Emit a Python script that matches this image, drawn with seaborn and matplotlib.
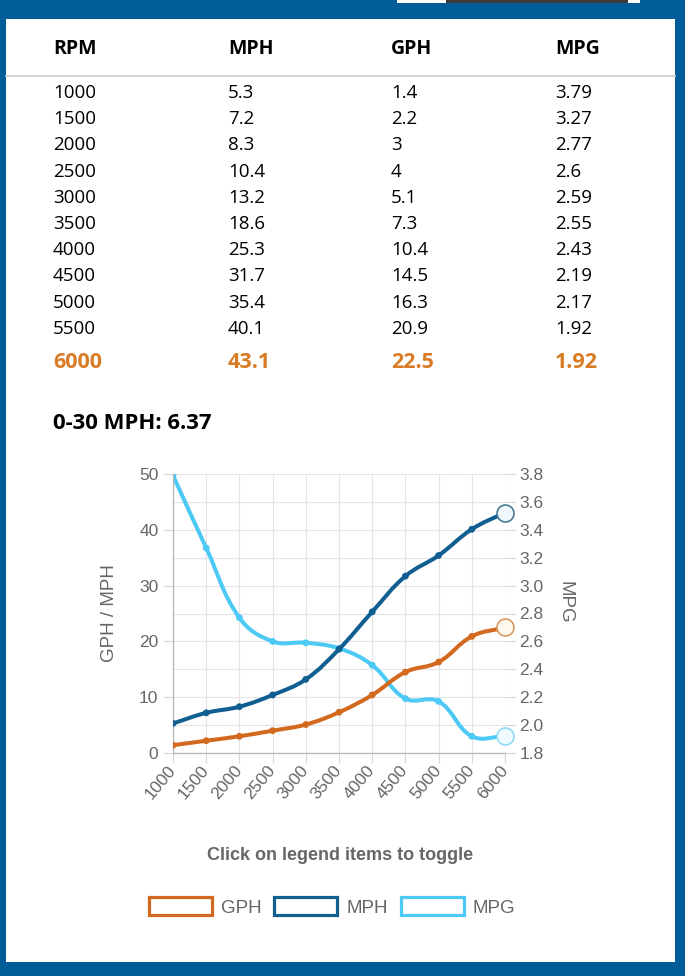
import numpy as np
import pandas as pd
import matplotlib
matplotlib.use("Agg")
import matplotlib.pyplot as plt
import seaborn as sns
from matplotlib.patches import Rectangle, PathPatch, Patch
from matplotlib.path import Path

# ---------------- data ----------------
rpm = [1000, 1500, 2000, 2500, 3000, 3500, 4000, 4500, 5000, 5500, 6000]
mph = [5.3, 7.2, 8.3, 10.4, 13.2, 18.6, 25.3, 31.7, 35.4, 40.1, 43.1]
gph = [1.4, 2.2, 3, 4, 5.1, 7.3, 10.4, 14.5, 16.3, 20.9, 22.5]
mpg = [3.79, 3.27, 2.77, 2.6, 2.59, 2.55, 2.43, 2.19, 2.17, 1.92, 1.92]
headers = ["RPM", "MPH", "GPH", "MPG"]
summary_text = "0-30 MPH: 6.37"
left_ticks = [0, 10, 20, 30, 40, 50]
right_ticks = [1.8, 2.0, 2.2, 2.4, 2.6, 2.8, 3.0, 3.2, 3.4, 3.6, 3.8]
series_names = ["GPH", "MPH", "MPG"]

df = pd.DataFrame({"RPM": rpm, "MPH": mph, "GPH": gph, "MPG": mpg})

# ---------------- style ----------------
sns.set_theme(style="white")
plt.rcParams["font.family"] = ["Liberation Sans", "DejaVu Sans"]

BLUE_BG = "#005d97"
C_GPH = "#d2691e"
C_MPH = "#115e91"
C_MPG = "#4dc9f6"
GREY_TXT = "#666666"
GRID = "#e4e4e4"

W, H = 685, 976
fig = plt.figure(figsize=(W / 100, H / 100), dpi=100, facecolor=BLUE_BG)


def fx(x):
    return x / W


def fy(y):
    return 1 - y / H


# panels
fig.patches.append(Rectangle((fx(6), fy(962)), (675 - 6) / W, (962 - 19) / H,
                             transform=fig.transFigure, facecolor="white",
                             edgecolor="none", zorder=0))
fig.patches.append(Rectangle((fx(397), fy(2.5)), (640 - 397) / W, 2.5 / H,
                             transform=fig.transFigure, facecolor="white",
                             edgecolor="none", zorder=0))
fig.patches.append(Rectangle((fx(446), fy(2.5)), (628 - 446) / W, 2.5 / H,
                             transform=fig.transFigure, facecolor="#3a3a3a",
                             edgecolor="none", zorder=1))

# ---------------- table ----------------
col_x = [53, 228, 391, 555]
for x, h in zip(col_x, headers):
    fig.text(fx(x), fy(49), h, family="Open Sans", fontweight="bold",
             fontsize=14, color="black", va="center", ha="left")

fig.lines.append(plt.Line2D([fx(6), fx(675)], [fy(76), fy(76)],
                            transform=fig.transFigure, color="#d4d4d4", lw=1.5))


def fmt(v):
    return f"{v:g}"


row_y0, row_dy = 93, 26.2
n = len(rpm)
for i in range(n - 1):
    y = row_y0 + i * row_dy
    vals = [rpm[i], mph[i], gph[i], mpg[i]]
    for x, v in zip(col_x, vals):
        fig.text(fx(x), fy(y), fmt(v), family="Open Sans", fontsize=13.5,
                 color="black", va="center", ha="left")
vals = [rpm[-1], mph[-1], gph[-1], mpg[-1]]
for x, v in zip(col_x, vals):
    fig.text(fx(x), fy(362), fmt(v), family="Open Sans", fontweight="bold",
             fontsize=15.5, color="#d97b24", va="center", ha="left")

fig.text(fx(53), fy(424), summary_text, family="Open Sans", fontweight="bold",
         fontsize=15.9, color="black", va="center", ha="left")

# ---------------- chart ----------------
ax = fig.add_axes([fx(173), 1 - 753 / H, (505 - 173) / W, (753 - 474) / H])
ax2 = ax.twinx()
ax.set_zorder(3)
ax2.set_zorder(2)
ax.patch.set_visible(False)
ax2.patch.set_visible(True)
ax2.patch.set_facecolor("white")

ax.set_xlim(1000, 6000)
ax.set_ylim(0, 50)
ax2.set_ylim(1.8, 3.8)

# grid on the lower (twin) axes
ax2.xaxis.set_visible(True)
ax2.set_xticks(rpm)
ax2.tick_params(axis="x", bottom=False, top=False, labelbottom=False, labeltop=False)
ax2.set_yticks(right_ticks)
ax2.set_yticklabels([f"{t:.1f}" for t in right_ticks])
ax2.grid(True, axis="both", color=GRID, lw=0.8)
for s in ax2.spines.values():
    s.set_visible(False)

ax.set_xticks(rpm)
ax.set_xticklabels([str(r) for r in rpm], rotation=50, ha="right", va="center",
                   rotation_mode="anchor")
ax.set_yticks(left_ticks)
ax.grid(False)
for s in ["top", "right"]:
    ax.spines[s].set_visible(False)
for s in ["left", "bottom"]:
    ax.spines[s].set_color("#b5b5b5")
    ax.spines[s].set_linewidth(0.9)

TS = 12.5
ax.tick_params(axis="y", length=7.5, width=0.8, color="#d8d8d8", labelcolor=GREY_TXT,
               labelsize=TS, pad=3, left=True)
ax.tick_params(axis="x", length=7.5, width=0.8, color="#d8d8d8", labelcolor=GREY_TXT,
               labelsize=TS, pad=3, bottom=True)
ax2.tick_params(axis="y", length=7.5, width=0.8, color="#d8d8d8", labelcolor=GREY_TXT,
                labelsize=TS, pad=3, right=True)


def smooth_path(axis, xs, ys, t=0.4):
    pts = axis.transData.transform(np.column_stack([xs, ys]).astype(float))
    m = len(pts)
    prev_cp, next_cp = [], []
    bb = axis.bbox
    for i in range(m):
        p = pts[i - 1] if i > 0 else pts[i]
        c = pts[i]
        a = pts[i + 1] if i < m - 1 else pts[i]
        d01 = np.hypot(*(c - p))
        d12 = np.hypot(*(a - c))
        tot = d01 + d12
        s01 = d01 / tot if tot else 0.0
        s12 = d12 / tot if tot else 0.0
        pc = c - t * s01 * (a - p)
        nc = c + t * s12 * (a - p)
        for cp in (pc, nc):
            cp[0] = min(max(cp[0], bb.x0), bb.x1)
            cp[1] = min(max(cp[1], bb.y0), bb.y1)
        prev_cp.append(pc)
        next_cp.append(nc)
    verts = [pts[0]]
    codes = [Path.MOVETO]
    for i in range(m - 1):
        verts += [next_cp[i], prev_cp[i + 1], pts[i + 1]]
        codes += [Path.CURVE4] * 3
    verts = axis.transData.inverted().transform(np.array(verts))
    return Path(verts, codes)


series = [
    (ax2, "MPG", C_MPG, "#effaff", "#8fdcf7", 3),
    (ax, "MPH", C_MPH, "#eef7fb", "#4b7a98", 3),
    (ax, "GPH", C_GPH, "#fff8ef", "#d99a62", 5),
]
for axis, col, color, fill, edge, z in series:
    path = smooth_path(axis, df["RPM"], df[col])
    axis.add_patch(PathPatch(path, facecolor="none", edgecolor=color, lw=2.9,
                             capstyle="round", joinstyle="round", zorder=z))
    sns.scatterplot(data=df.iloc[:-1], x="RPM", y=col, ax=axis, color=color,
                    s=24, edgecolor="none", zorder=z + 0.5, legend=False)
    sns.scatterplot(data=df.iloc[[-1]], x="RPM", y=col, ax=axis, color=fill,
                    s=150, edgecolor=edge, linewidth=1.2, zorder=z + 0.6,
                    legend=False, clip_on=False)

ax.set_xlabel("")
ax2.set_xlabel("")
ax.set_ylabel("GPH / MPH", color=GREY_TXT, fontsize=13.5)
ax.yaxis.set_label_coords((118 - 173) / 332, 0.5)
ax2.set_ylabel("MPG", color=GREY_TXT, fontsize=13.5, rotation=270, va="center")
ax2.yaxis.set_label_coords((565 - 173) / 332, 0.54)
ax.set_xlim(1000, 6000)
ax.set_ylim(0, 50)
ax2.set_ylim(1.8, 3.8)

fig.text(fx(340), fy(856), "Click on legend items to toggle", ha="center",
         va="center", fontweight="bold", color=GREY_TXT, fontsize=13)

handles = [Patch(facecolor="white", edgecolor=c, linewidth=2.3)
           for c in (C_GPH, C_MPH, C_MPG)]
LFS = 13.5
fs_px = LFS * 100 / 72
fig.legend(handles, series_names, loc="center", ncol=3,
           bbox_to_anchor=(fx(332), fy(907)), frameon=False, fontsize=LFS,
           labelcolor=GREY_TXT, handlelength=63 / fs_px, handleheight=20 / fs_px,
           handletextpad=9 / fs_px, columnspacing=13 / fs_px, borderpad=0)

fig.savefig("out.png", dpi=100, facecolor=fig.get_facecolor())
